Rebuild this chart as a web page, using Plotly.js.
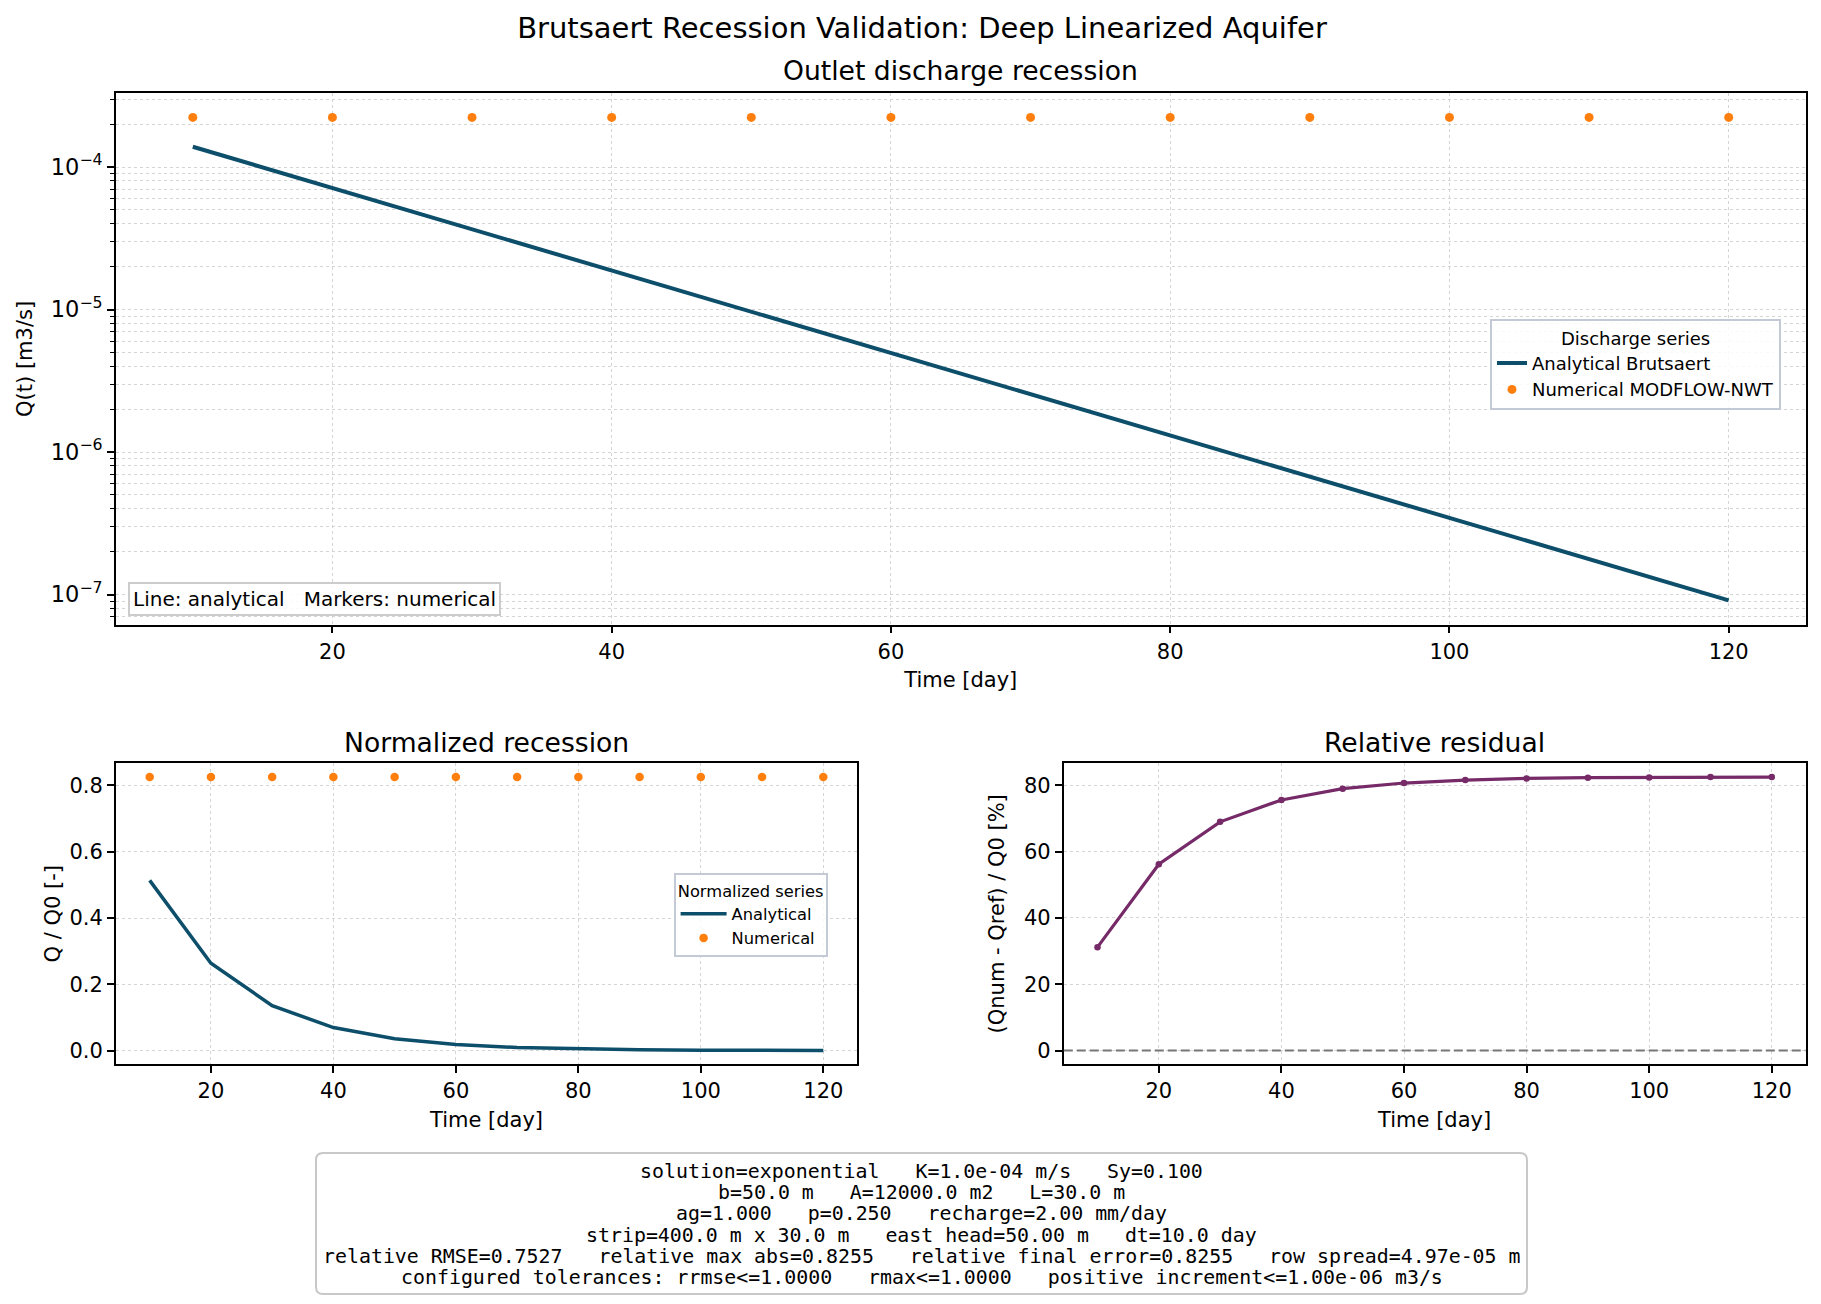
<!DOCTYPE html>
<html>
<head>
<meta charset="utf-8">
<script src="https://cdn.plot.ly/plotly-3.0.1.min.js"></script>
<style>
  html, body { margin: 0; padding: 0; background: #ffffff; }
  #chart { width: 1821px; height: 1304px; }
</style>
</head>
<body>
<div id="chart"></div>
<script>
// Time axis of the recession run [day]
const timeDays = [10, 20, 30, 40, 50, 60, 70, 80, 90, 100, 110, 120];

// Outlet discharge [m3/s]
const qAnalytical = [1.387e-4, 7.122e-5, 3.658e-5, 1.879e-5, 9.649e-6, 4.956e-6,
                     2.545e-6, 1.307e-6, 6.714e-7, 3.448e-7, 1.771e-7, 9.096e-8];
const qNumerical  = [2.229e-4, 2.229e-4, 2.229e-4, 2.229e-4, 2.229e-4, 2.229e-4,
                     2.229e-4, 2.229e-4, 2.229e-4, 2.229e-4, 2.229e-4, 2.229e-4];

// Discharge normalised by Q0 [-]
const normAnalytical = [0.5136, 0.2638, 0.1355, 0.0696, 0.0357, 0.0184,
                        0.0094, 0.0048, 0.0025, 0.0013, 0.0007, 0.0003];
const normNumerical  = [0.8255, 0.8255, 0.8255, 0.8255, 0.8255, 0.8255,
                        0.8255, 0.8255, 0.8255, 0.8255, 0.8255, 0.8255];

// (Qnum - Qref) / Q0 [%]
const relResidualPct = [31.2, 56.2, 69.0, 75.6, 79.0, 80.7, 81.6, 82.1, 82.3, 82.4, 82.5, 82.5];

// Decade tick labels of the log discharge axis
const logTickVals = [1e-7, 1e-6, 1e-5, 1e-4];
const logTickText = ['10<sup>\u22127</sup>', '10<sup>\u22126</sup>', '10<sup>\u22125</sup>', '10<sup>\u22124</sup>'];

// Run summary printed under the panels
const summaryLines = [
  'solution=exponential   K=1.0e-04 m/s   Sy=0.100',
  'b=50.0 m   A=12000.0 m2   L=30.0 m',
  'ag=1.000   p=0.250   recharge=2.00 mm/day',
  'strip=400.0 m x 30.0 m   east head=50.00 m   dt=10.0 day',
  'relative RMSE=0.7527   relative max abs=0.8255   relative final error=0.8255   row spread=4.97e-05 m',
  'configured tolerances: rrmse<=1.0000   rmax<=1.0000   positive increment<=1.00e-06 m3/s'
];

const W = 1821, H = 1304;
const px = v => v / W;          // pixel -> paper x
const py = v => 1 - v / H;      // pixel -> paper y

const FONT = 'DejaVu Sans, Verdana, sans-serif';
const MONO = 'DejaVu Sans Mono, monospace';
const C_LINE = '#0d4f6b';
const C_MARK = '#ff7f0e';
const C_RES = '#762a68';
const GRID = '#d4d4d4';

const baseAxis = {
  showline: true, mirror: true, linecolor: '#000', linewidth: 1.8,
  ticks: 'outside', ticklen: 7, tickwidth: 1.6, tickcolor: '#000',
  tickfont: { family: FONT, size: 21, color: '#000' },
  showgrid: true, gridcolor: GRID, griddash: 'dot', gridwidth: 1.3,
  zeroline: false, automargin: false
};
const timeAxis = (domain, anchor) => Object.assign({}, baseAxis, {
  domain: domain, anchor: anchor, range: [4.5, 125.5], tick0: 0, dtick: 20,
  title: { text: 'Time [day]', font: { family: FONT, size: 21, color: '#000' }, standoff: 10 }
});

const traces = [
  { x: timeDays, y: qAnalytical, type: 'scatter', mode: 'lines', name: 'Analytical Brutsaert',
    line: { color: C_LINE, width: 4 }, xaxis: 'x', yaxis: 'y', legend: 'legend' },
  { x: timeDays, y: qNumerical, type: 'scatter', mode: 'markers', name: 'Numerical MODFLOW-NWT',
    marker: { color: C_MARK, size: 9 }, xaxis: 'x', yaxis: 'y', legend: 'legend' },
  { x: timeDays, y: normAnalytical, type: 'scatter', mode: 'lines', name: 'Analytical',
    line: { color: C_LINE, width: 3.5 }, xaxis: 'x2', yaxis: 'y2', legend: 'legend2' },
  { x: timeDays, y: normNumerical, type: 'scatter', mode: 'markers', name: 'Numerical',
    marker: { color: C_MARK, size: 8.5 }, xaxis: 'x2', yaxis: 'y2', legend: 'legend2' },
  { x: timeDays, y: relResidualPct, type: 'scatter', mode: 'lines+markers', name: 'Relative residual',
    line: { color: C_RES, width: 3.2 }, marker: { color: C_RES, size: 6.5 },
    xaxis: 'x3', yaxis: 'y3', showlegend: false }
];

const legendBase = {
  bgcolor: 'rgba(255,255,255,0.85)', bordercolor: '#c3cad6', borderwidth: 2,
  xanchor: 'left', yanchor: 'top', tracegroupgap: 0
};

// Rounded frame of the summary box
const bx0 = 316, bx1 = 1527, by0 = 1153, by1 = 1294, r = 7;
const boxPath = [
  'M', px(bx0 + r), py(by0),
  'L', px(bx1 - r), py(by0),
  'Q', px(bx1), py(by0), px(bx1), py(by0 + r),
  'L', px(bx1), py(by1 - r),
  'Q', px(bx1), py(by1), px(bx1 - r), py(by1),
  'L', px(bx0 + r), py(by1),
  'Q', px(bx0), py(by1), px(bx0), py(by1 - r),
  'L', px(bx0), py(by0 + r),
  'Q', px(bx0), py(by0), px(bx0 + r), py(by0), 'Z'
].join(' ');

const annotations = [
  { text: 'Outlet discharge recession', xref: 'paper', yref: 'paper', x: px(960.5), y: py(71),
    xanchor: 'center', yanchor: 'middle', showarrow: false, font: { family: FONT, size: 26.6, color: '#000' } },
  { text: 'Normalized recession', xref: 'paper', yref: 'paper', x: px(486.5), y: py(742),
    xanchor: 'center', yanchor: 'middle', showarrow: false, font: { family: FONT, size: 26.6, color: '#000' } },
  { text: 'Relative residual', xref: 'paper', yref: 'paper', x: px(1434.5), y: py(742),
    xanchor: 'center', yanchor: 'middle', showarrow: false, font: { family: FONT, size: 26.6, color: '#000' } },
  { text: 'Line: analytical   Markers: numerical', xref: 'paper', yref: 'paper', x: px(128), y: py(615.5),
    xanchor: 'left', yanchor: 'bottom', showarrow: false, bgcolor: 'rgba(255,255,255,0.85)',
    bordercolor: '#cccccc', borderwidth: 2, borderpad: 3, font: { family: FONT, size: 20, color: '#000' } }
];
const lineCenters = [1171.4, 1192.6, 1213.8, 1235.0, 1256.2, 1277.4];
summaryLines.forEach((t, i) => {
  annotations.push({ text: t, xref: 'paper', yref: 'paper', x: px(921.5), y: py(lineCenters[i]),
    xanchor: 'center', yanchor: 'middle', showarrow: false,
    font: { family: MONO, size: 19.9, color: '#000' } });
});

const layout = {
  width: W, height: H,
  margin: { l: 0, r: 0, t: 0, b: 0 },
  paper_bgcolor: '#ffffff', plot_bgcolor: '#ffffff',
  font: { family: FONT, color: '#000' },
  title: { text: 'Brutsaert Recession Validation: Deep Linearized Aquifer',
    x: px(922), xanchor: 'center', y: py(28), yanchor: 'middle', xref: 'paper', yref: 'paper',
    font: { family: FONT, size: 29, color: '#000' } },
  xaxis: timeAxis([px(116), px(1805.5)], 'y'),
  yaxis: Object.assign({}, baseAxis, {
    domain: [py(624.5), py(93.3)], anchor: 'x', type: 'log', range: [-7.2105, -3.4825],
    tickmode: 'array', tickvals: logTickVals, ticktext: logTickText,
    tickfont: { family: FONT, size: 22.5, color: '#000' },
    minor: { dtick: 'D1', ticks: 'outside', ticklen: 4, tickwidth: 1.2, tickcolor: '#000',
             showgrid: true, gridcolor: GRID, griddash: 'dot', gridwidth: 1.3 },
    title: { text: 'Q(t) [m3/s]', font: { family: FONT, size: 21, color: '#000' }, standoff: 12 }
  }),
  xaxis2: timeAxis([px(116), px(857)], 'y2'),
  yaxis2: Object.assign({}, baseAxis, {
    domain: [py(1064.3), py(763.3)], anchor: 'x2', range: [-0.0413, 0.8668],
    tick0: 0, dtick: 0.2, tickformat: '.1f',
    title: { text: 'Q / Q0 [-]', font: { family: FONT, size: 21, color: '#000' }, standoff: 3 }
  }),
  xaxis3: timeAxis([px(1063.8), px(1805.5)], 'y3'),
  yaxis3: Object.assign({}, baseAxis, {
    domain: [py(1064.3), py(763.3)], anchor: 'x3', range: [-4.126, 86.65],
    tick0: 0, dtick: 20,
    title: { text: '(Qnum - Qref) / Q0 [%]', font: { family: FONT, size: 21, color: '#000' }, standoff: 14 }
  }),
  legend: Object.assign({}, legendBase, {
    x: px(1490), y: py(319.4), itemwidth: 30,
    font: { family: FONT, size: 18, color: '#000' },
    title: { text: 'Discharge series', side: 'top center', font: { family: FONT, size: 18, color: '#000' } }
  }),
  legend2: Object.assign({}, legendBase, {
    x: px(673.6), y: py(873.4), itemwidth: 46,
    font: { family: FONT, size: 16.3, color: '#000' },
    title: { text: 'Normalized series', side: 'top center', font: { family: FONT, size: 16.3, color: '#000' } }
  }),
  shapes: [
    { type: 'line', xref: 'x3 domain', yref: 'y3', x0: 0, x1: 1, y0: 0, y1: 0,
      line: { color: '#777777', width: 2, dash: '9px,4px' }, layer: 'above' },
    { type: 'path', xref: 'paper', yref: 'paper', path: boxPath,
      line: { color: '#c8c8c8', width: 2 }, fillcolor: 'rgba(255,255,255,0.9)', layer: 'below' }
  ],
  annotations: annotations
};

Plotly.newPlot('chart', traces, layout, { displayModeBar: false, responsive: false });
</script>
</body>
</html>
